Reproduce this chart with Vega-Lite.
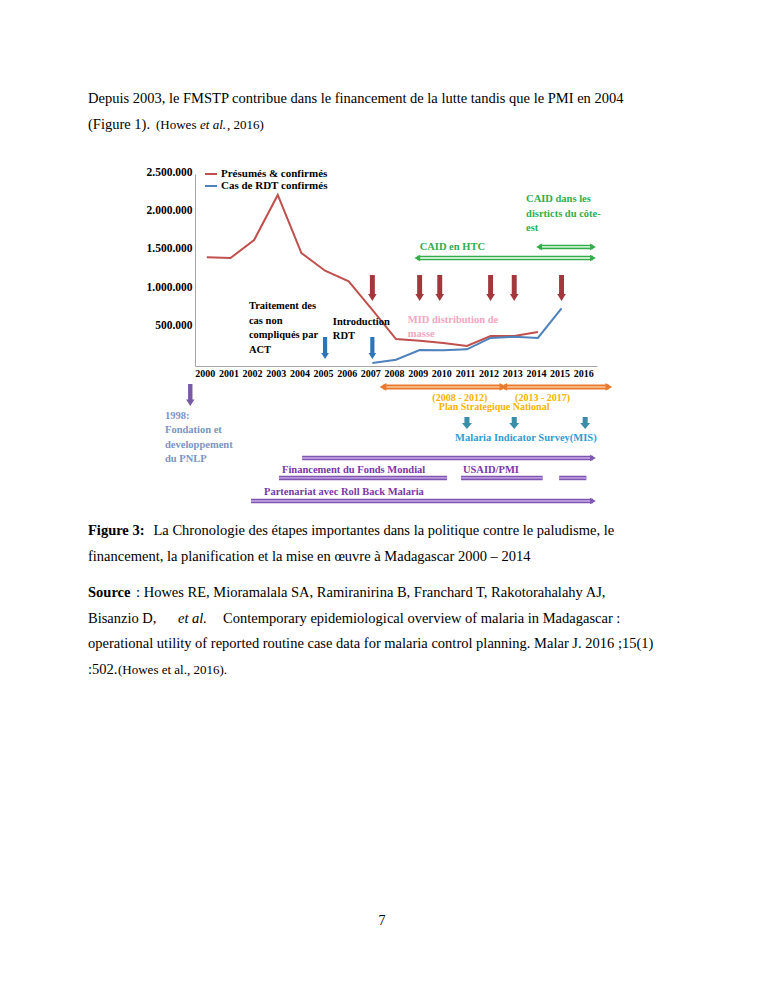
{
  "$schema": "https://vega.github.io/schema/vega-lite/v6.json",
  "background": "white",
  "padding": {"left": 88, "top": 86, "right": 10, "bottom": 10},
  "spacing": 0,
  "config": {
    "view": {"stroke": null},
    "font": "Liberation Serif",
    "axisX": {"ticks": false, "grid": false, "domainColor": "#a6a6a6", "labelFont": "Liberation Serif", "labelFontSize": 10, "labelFontWeight": "bold", "labelColor": "black", "labelPadding": 2, "labelOffset": -2, "labelOverlap": false, "labelFlush": false, "labelBound": false},
    "axisY": {"ticks": false, "grid": false, "domainColor": "#a6a6a6", "labelFont": "Liberation Serif", "labelFontSize": 11.5, "labelFontWeight": "bold", "labelColor": "black", "labelPadding": 3, "labelOffset": -2, "labelOverlap": false}
  },
  "resolve": {"scale": {"x": "independent", "y": "independent", "color": "independent"}},
  "datasets": {
    "para": [
      {"line": 1, "seg": "a", "text": "Depuis 2003, le FMSTP contribue dans le financement de la lutte tandis que le PMI en 2004"},
      {"line": 2, "seg": "a", "text": "(Figure 1)."},
      {"line": 2, "seg": "b", "text": "(Howes"},
      {"line": 2, "seg": "c", "text": "et al."},
      {"line": 2, "seg": "d", "text": ", 2016)"}
    ],
    "fig": [
      {"line": 1, "seg": "a", "text": "Figure 3:"},
      {"line": 1, "seg": "b", "text": "La Chronologie des étapes importantes dans la politique contre le paludisme, le"},
      {"line": 2, "seg": "c", "text": "financement, la planification et la mise en œuvre à Madagascar 2000 – 2014"}
    ],
    "source": [
      {"line": 1, "seg": "a", "text": "Source"},
      {"line": 1, "seg": "b", "text": ": Howes RE, Mioramalala SA, Ramiranirina B, Franchard T, Rakotorahalahy AJ,"},
      {"line": 2, "seg": "c", "text": "Bisanzio D,"},
      {"line": 2, "seg": "d", "text": "et al."},
      {"line": 2, "seg": "e", "text": "Contemporary epidemiological overview of malaria in Madagascar :"},
      {"line": 3, "seg": "c", "text": "operational utility of reported routine case data for malaria control planning. Malar J. 2016 ;15(1)"},
      {"line": 4, "seg": "c", "text": ":502."},
      {"line": 4, "seg": "f", "text": "(Howes et al., 2016)."}
    ],
    "page": [{"line": 1, "text": "7"}],
    "cases": [
      {"year": 2000, "serie": "Présumés & confirmés", "value": 1415000},
      {"year": 2001, "serie": "Présumés & confirmés", "value": 1406000},
      {"year": 2002, "serie": "Présumés & confirmés", "value": 1640000},
      {"year": 2003, "serie": "Présumés & confirmés", "value": 2227000},
      {"year": 2004, "serie": "Présumés & confirmés", "value": 1471000},
      {"year": 2005, "serie": "Présumés & confirmés", "value": 1241000},
      {"year": 2006, "serie": "Présumés & confirmés", "value": 1103000},
      {"year": 2007, "serie": "Présumés & confirmés", "value": 730000},
      {"year": 2008, "serie": "Présumés & confirmés", "value": 350000},
      {"year": 2009, "serie": "Présumés & confirmés", "value": 330000},
      {"year": 2010, "serie": "Présumés & confirmés", "value": 300000},
      {"year": 2011, "serie": "Présumés & confirmés", "value": 260000},
      {"year": 2012, "serie": "Présumés & confirmés", "value": 390000},
      {"year": 2013, "serie": "Présumés & confirmés", "value": 390000},
      {"year": 2014, "serie": "Présumés & confirmés", "value": 443000},
      {"year": 2007, "serie": "Cas de RDT confirmés", "value": 40000},
      {"year": 2008, "serie": "Cas de RDT confirmés", "value": 82000},
      {"year": 2009, "serie": "Cas de RDT confirmés", "value": 208000},
      {"year": 2010, "serie": "Cas de RDT confirmés", "value": 205000},
      {"year": 2011, "serie": "Cas de RDT confirmés", "value": 217000},
      {"year": 2012, "serie": "Cas de RDT confirmés", "value": 365000},
      {"year": 2013, "serie": "Cas de RDT confirmés", "value": 380000},
      {"year": 2014, "serie": "Cas de RDT confirmés", "value": 365000},
      {"year": 2015, "serie": "Cas de RDT confirmés", "value": 751000}
    ],
    "redArrows": [{"year": 2007}, {"year": 2009}, {"year": 2009.85}, {"year": 2012}, {"year": 2013}, {"year": 2015}],
    "blueArrows": [{"year": 2005}, {"year": 2007}],
    "pnlpArrow": [{"year": 1999.3}],
    "misArrows": [{"year": 2011}, {"year": 2013}, {"year": 2016}],
    "spans": [
      {"id": "caid_htc", "start": 2008.9, "end": 2016.33},
      {"id": "caid_est", "start": 2014.05, "end": 2016.33},
      {"id": "psn", "start": 2007.45, "end": 2012.52},
      {"id": "psn", "start": 2012.56, "end": 2017.0},
      {"id": "top", "start": 2004.03, "end": 2016.33},
      {"id": "bars", "start": 2003.05, "end": 2010.16},
      {"id": "bars", "start": 2010.75, "end": 2014.2},
      {"id": "bars", "start": 2014.9, "end": 2016.05},
      {"id": "rbm", "start": 2001.87, "end": 2016.33}
    ],
    "labels": [
      {"grp": "act", "year": 2001.78, "text": "Traitement des\ncas non\ncompliqués par\nACT"},
      {"grp": "rdt", "year": 2005.33, "text": "Introduction\nRDT"},
      {"grp": "mid", "year": 2008.5, "text": "MID distribution  de\nmasse"},
      {"grp": "htc", "year": 2009.0, "text": "CAID en HTC"},
      {"grp": "est", "year": 2013.5, "text": "CAID dans les\ndisrticts du côte-\nest"},
      {"grp": "pnlp", "year": 1998.23, "text": "1998:\nFondation et\ndeveloppement\ndu PNLP"},
      {"grp": "period", "year": 2010.7, "text": "(2008 - 2012)"},
      {"grp": "period", "year": 2014.2, "text": "(2013 - 2017)"},
      {"grp": "psn", "year": 2012.15, "text": "Plan Strategique National"},
      {"grp": "mis", "year": 2010.5, "text": "Malaria Indicator Survey(MIS)"},
      {"grp": "fund", "year": 2003.18, "text": "Financement du Fonds Mondial"},
      {"grp": "fund", "year": 2010.83, "text": "USAID/PMI"},
      {"grp": "rbm", "year": 2002.42, "text": "Partenariat avec Roll Back Malaria"}
    ]
  },
  "vconcat": [
    {
      "width": 590, "height": 80,
      "data": {"name": "para"},
      "encoding": {
        "y": {"field": "line", "type": "quantitative", "axis": null, "scale": {"domain": [0.5, 3.5769], "reverse": true, "nice": false, "zero": false}},
        "x": {"datum": 0, "type": "quantitative", "axis": null, "scale": {"domain": [0, 1]}}
      },
      "layer": [
        {"transform": [{"filter": "datum.seg == 'a'"}], "mark": {"type": "text", "align": "left", "baseline": "middle", "font": "Liberation Serif", "fontSize": 14.5, "color": "black", "dx": -107}, "encoding": {"text": {"field": "text"}}},
        {"transform": [{"filter": "datum.seg == 'b'"}], "mark": {"type": "text", "align": "left", "baseline": "middle", "font": "Liberation Serif", "fontSize": 13, "color": "black", "dx": -39}, "encoding": {"text": {"field": "text"}}},
        {"transform": [{"filter": "datum.seg == 'c'"}], "mark": {"type": "text", "align": "left", "baseline": "middle", "font": "Liberation Serif", "fontSize": 13, "fontStyle": "italic", "color": "black", "dx": 5}, "encoding": {"text": {"field": "text"}}},
        {"transform": [{"filter": "datum.seg == 'd'"}], "mark": {"type": "text", "align": "left", "baseline": "middle", "font": "Liberation Serif", "fontSize": 13, "color": "black", "dx": 32}, "encoding": {"text": {"field": "text"}}}
      ]
    },
    {
      "width": 402, "height": 192,
      "layer": [
        {
          "data": {"name": "cases"},
          "mark": {"type": "line", "strokeWidth": 2},
          "encoding": {
            "x": {"field": "year", "type": "quantitative", "title": null,
              "scale": {"domain": [1999.5, 2016.5], "nice": false, "zero": false},
              "axis": {"values": [2000, 2001, 2002, 2003, 2004, 2005, 2006, 2007, 2008, 2009, 2010, 2011, 2012, 2013, 2014, 2015, 2016], "format": "d", "title": null, "labelOverlap": false}},
            "y": {"field": "value", "type": "quantitative", "title": null,
              "scale": {"domain": [0, 2500000], "nice": false, "zero": false},
              "axis": {"values": [500000, 1000000, 1500000, 2000000, 2500000], "labelExpr": "replace(replace(format(datum.value, ','), ',', '.'), ',', '.')", "title": null, "minExtent": 107}},
            "color": {"field": "serie", "type": "nominal",
              "scale": {"domain": ["Présumés & confirmés", "Cas de RDT confirmés"], "range": ["#c0504d", "#4f81bd"]},
              "legend": {"title": null, "orient": "none", "legendX": 9, "legendY": -7, "symbolType": "stroke", "symbolSize": 144, "symbolStrokeWidth": 2, "labelFont": "Liberation Serif", "labelFontSize": 11, "labelFontWeight": "bold", "labelColor": "black", "labelOffset": 3, "rowPadding": 0, "padding": 0}}
          }
        },
        {
          "data": {"name": "redArrows"},
          "mark": {"type": "point", "shape": "M-0.19,-1L0.19,-1L0.19,0.46L0.33,0.46L0,1L-0.33,0.46L-0.19,0.46Z", "size": 676, "filled": true, "color": "#a3373b", "opacity": 1, "strokeWidth": 0},
          "encoding": {"x": {"field": "year", "type": "quantitative", "axis": {"values": [2000, 2001, 2002, 2003, 2004, 2005, 2006, 2007, 2008, 2009, 2010, 2011, 2012, 2013, 2014, 2015, 2016], "format": "d", "title": null, "labelOverlap": false}}, "y": {"datum": 1016000, "type": "quantitative"}}
        },
        {
          "data": {"name": "blueArrows"},
          "mark": {"type": "point", "shape": "M-0.19,-1L0.19,-1L0.19,0.46L0.35,0.46L0,1L-0.35,0.46L-0.19,0.46Z", "size": 484, "filled": true, "color": "#2d74bb", "opacity": 1, "strokeWidth": 0},
          "encoding": {"x": {"field": "year", "type": "quantitative", "axis": {"values": [2000, 2001, 2002, 2003, 2004, 2005, 2006, 2007, 2008, 2009, 2010, 2011, 2012, 2013, 2014, 2015, 2016], "format": "d", "title": null, "labelOverlap": false}}, "y": {"datum": 234000, "type": "quantitative"}}
        },
        {
          "data": {"name": "pnlpArrow"},
          "mark": {"type": "point", "shape": "M-0.2,-1L0.2,-1L0.2,0.4L0.38,0.4L0,1L-0.38,0.4L-0.2,0.4Z", "size": 484, "filled": true, "color": "#7a5aa5", "opacity": 1, "strokeWidth": 0},
          "encoding": {"x": {"field": "year", "type": "quantitative", "axis": {"values": [2000, 2001, 2002, 2003, 2004, 2005, 2006, 2007, 2008, 2009, 2010, 2011, 2012, 2013, 2014, 2015, 2016], "format": "d", "title": null, "labelOverlap": false}}, "y": {"datum": -378000, "type": "quantitative"}}
        },
        {
          "data": {"name": "misArrows"},
          "mark": {"type": "point", "shape": "M-0.42,-1L0.42,-1L0.42,0L0.83,0L0,1L-0.83,0L-0.42,0Z", "size": 144, "filled": true, "color": "#3a8da6", "opacity": 1, "strokeWidth": 0},
          "encoding": {"x": {"field": "year", "type": "quantitative", "axis": {"values": [2000, 2001, 2002, 2003, 2004, 2005, 2006, 2007, 2008, 2009, 2010, 2011, 2012, 2013, 2014, 2015, 2016], "format": "d", "title": null, "labelOverlap": false}}, "y": {"datum": -742000, "type": "quantitative"}}
        },
        {
          "data": {"name": "spans"},
          "transform": [{"filter": "datum.id == 'caid_htc'"}],
          "encoding": {"y": {"datum": 1406000, "type": "quantitative"}},
          "layer": [
            {"mark": {"type": "rule", "strokeWidth": 4.5, "color": "#36ad4b"}, "encoding": {"x": {"field": "start", "type": "quantitative", "axis": {"values": [2000, 2001, 2002, 2003, 2004, 2005, 2006, 2007, 2008, 2009, 2010, 2011, 2012, 2013, 2014, 2015, 2016], "format": "d", "title": null, "labelOverlap": false}}, "x2": {"field": "end"}}},
            {"mark": {"type": "rule", "strokeWidth": 1.8, "color": "#c6eecb"}, "encoding": {"x": {"field": "start", "type": "quantitative", "axis": {"values": [2000, 2001, 2002, 2003, 2004, 2005, 2006, 2007, 2008, 2009, 2010, 2011, 2012, 2013, 2014, 2015, 2016], "format": "d", "title": null, "labelOverlap": false}}, "x2": {"field": "end"}}},
            {"mark": {"type": "point", "shape": "triangle-left", "size": 45, "filled": true, "color": "#36ad4b", "opacity": 1}, "encoding": {"x": {"field": "start", "type": "quantitative", "axis": {"values": [2000, 2001, 2002, 2003, 2004, 2005, 2006, 2007, 2008, 2009, 2010, 2011, 2012, 2013, 2014, 2015, 2016], "format": "d", "title": null, "labelOverlap": false}}}},
            {"mark": {"type": "point", "shape": "triangle-right", "size": 45, "filled": true, "color": "#36ad4b", "opacity": 1}, "encoding": {"x": {"field": "end", "type": "quantitative", "axis": {"values": [2000, 2001, 2002, 2003, 2004, 2005, 2006, 2007, 2008, 2009, 2010, 2011, 2012, 2013, 2014, 2015, 2016], "format": "d", "title": null, "labelOverlap": false}}}}
          ]
        },
        {
          "data": {"name": "spans"},
          "transform": [{"filter": "datum.id == 'caid_est'"}],
          "encoding": {"y": {"datum": 1550000, "type": "quantitative"}},
          "layer": [
            {"mark": {"type": "rule", "strokeWidth": 4.5, "color": "#36ad4b"}, "encoding": {"x": {"field": "start", "type": "quantitative", "axis": {"values": [2000, 2001, 2002, 2003, 2004, 2005, 2006, 2007, 2008, 2009, 2010, 2011, 2012, 2013, 2014, 2015, 2016], "format": "d", "title": null, "labelOverlap": false}}, "x2": {"field": "end"}}},
            {"mark": {"type": "rule", "strokeWidth": 1.8, "color": "#c6eecb"}, "encoding": {"x": {"field": "start", "type": "quantitative", "axis": {"values": [2000, 2001, 2002, 2003, 2004, 2005, 2006, 2007, 2008, 2009, 2010, 2011, 2012, 2013, 2014, 2015, 2016], "format": "d", "title": null, "labelOverlap": false}}, "x2": {"field": "end"}}},
            {"mark": {"type": "point", "shape": "triangle-left", "size": 45, "filled": true, "color": "#36ad4b", "opacity": 1}, "encoding": {"x": {"field": "start", "type": "quantitative", "axis": {"values": [2000, 2001, 2002, 2003, 2004, 2005, 2006, 2007, 2008, 2009, 2010, 2011, 2012, 2013, 2014, 2015, 2016], "format": "d", "title": null, "labelOverlap": false}}}},
            {"mark": {"type": "point", "shape": "triangle-right", "size": 45, "filled": true, "color": "#36ad4b", "opacity": 1}, "encoding": {"x": {"field": "end", "type": "quantitative", "axis": {"values": [2000, 2001, 2002, 2003, 2004, 2005, 2006, 2007, 2008, 2009, 2010, 2011, 2012, 2013, 2014, 2015, 2016], "format": "d", "title": null, "labelOverlap": false}}}}
          ]
        },
        {
          "data": {"name": "spans"},
          "transform": [{"filter": "datum.id == 'psn'"}],
          "encoding": {"y": {"datum": -273000, "type": "quantitative"}},
          "layer": [
            {"mark": {"type": "rule", "strokeWidth": 5, "color": "#e77a2e"}, "encoding": {"x": {"field": "start", "type": "quantitative", "axis": {"values": [2000, 2001, 2002, 2003, 2004, 2005, 2006, 2007, 2008, 2009, 2010, 2011, 2012, 2013, 2014, 2015, 2016], "format": "d", "title": null, "labelOverlap": false}}, "x2": {"field": "end"}}},
            {"mark": {"type": "rule", "strokeWidth": 2, "color": "#f8b47c"}, "encoding": {"x": {"field": "start", "type": "quantitative", "axis": {"values": [2000, 2001, 2002, 2003, 2004, 2005, 2006, 2007, 2008, 2009, 2010, 2011, 2012, 2013, 2014, 2015, 2016], "format": "d", "title": null, "labelOverlap": false}}, "x2": {"field": "end"}}},
            {"mark": {"type": "point", "shape": "triangle-left", "size": 60, "filled": true, "color": "#e77a2e", "opacity": 1}, "encoding": {"x": {"field": "start", "type": "quantitative", "axis": {"values": [2000, 2001, 2002, 2003, 2004, 2005, 2006, 2007, 2008, 2009, 2010, 2011, 2012, 2013, 2014, 2015, 2016], "format": "d", "title": null, "labelOverlap": false}}}},
            {"mark": {"type": "point", "shape": "triangle-right", "size": 60, "filled": true, "color": "#e77a2e", "opacity": 1}, "encoding": {"x": {"field": "end", "type": "quantitative", "axis": {"values": [2000, 2001, 2002, 2003, 2004, 2005, 2006, 2007, 2008, 2009, 2010, 2011, 2012, 2013, 2014, 2015, 2016], "format": "d", "title": null, "labelOverlap": false}}}}
          ]
        },
        {
          "data": {"name": "spans"},
          "transform": [{"filter": "datum.id == 'top'"}],
          "encoding": {"y": {"datum": -1198000, "type": "quantitative"}},
          "layer": [
            {"mark": {"type": "rule", "strokeWidth": 4.5, "color": "#7f56b0"}, "encoding": {"x": {"field": "start", "type": "quantitative", "axis": {"values": [2000, 2001, 2002, 2003, 2004, 2005, 2006, 2007, 2008, 2009, 2010, 2011, 2012, 2013, 2014, 2015, 2016], "format": "d", "title": null, "labelOverlap": false}}, "x2": {"field": "end"}}},
            {"mark": {"type": "rule", "strokeWidth": 1.8, "color": "#b896dc"}, "encoding": {"x": {"field": "start", "type": "quantitative", "axis": {"values": [2000, 2001, 2002, 2003, 2004, 2005, 2006, 2007, 2008, 2009, 2010, 2011, 2012, 2013, 2014, 2015, 2016], "format": "d", "title": null, "labelOverlap": false}}, "x2": {"field": "end"}}},
            {"mark": {"type": "point", "shape": "triangle-right", "size": 45, "filled": true, "color": "#7f56b0", "opacity": 1}, "encoding": {"x": {"field": "end", "type": "quantitative", "axis": {"values": [2000, 2001, 2002, 2003, 2004, 2005, 2006, 2007, 2008, 2009, 2010, 2011, 2012, 2013, 2014, 2015, 2016], "format": "d", "title": null, "labelOverlap": false}}}}
          ]
        },
        {
          "data": {"name": "spans"},
          "transform": [{"filter": "datum.id == 'bars'"}],
          "encoding": {"y": {"datum": -1458000, "type": "quantitative"}},
          "layer": [
            {"mark": {"type": "rule", "strokeWidth": 4.5, "color": "#7f56b0"}, "encoding": {"x": {"field": "start", "type": "quantitative", "axis": {"values": [2000, 2001, 2002, 2003, 2004, 2005, 2006, 2007, 2008, 2009, 2010, 2011, 2012, 2013, 2014, 2015, 2016], "format": "d", "title": null, "labelOverlap": false}}, "x2": {"field": "end"}}},
            {"mark": {"type": "rule", "strokeWidth": 1.8, "color": "#b896dc"}, "encoding": {"x": {"field": "start", "type": "quantitative", "axis": {"values": [2000, 2001, 2002, 2003, 2004, 2005, 2006, 2007, 2008, 2009, 2010, 2011, 2012, 2013, 2014, 2015, 2016], "format": "d", "title": null, "labelOverlap": false}}, "x2": {"field": "end"}}}
          ]
        },
        {
          "data": {"name": "spans"},
          "transform": [{"filter": "datum.id == 'rbm'"}],
          "encoding": {"y": {"datum": -1758000, "type": "quantitative"}},
          "layer": [
            {"mark": {"type": "rule", "strokeWidth": 4.5, "color": "#7f56b0"}, "encoding": {"x": {"field": "start", "type": "quantitative", "axis": {"values": [2000, 2001, 2002, 2003, 2004, 2005, 2006, 2007, 2008, 2009, 2010, 2011, 2012, 2013, 2014, 2015, 2016], "format": "d", "title": null, "labelOverlap": false}}, "x2": {"field": "end"}}},
            {"mark": {"type": "rule", "strokeWidth": 1.8, "color": "#b896dc"}, "encoding": {"x": {"field": "start", "type": "quantitative", "axis": {"values": [2000, 2001, 2002, 2003, 2004, 2005, 2006, 2007, 2008, 2009, 2010, 2011, 2012, 2013, 2014, 2015, 2016], "format": "d", "title": null, "labelOverlap": false}}, "x2": {"field": "end"}}},
            {"mark": {"type": "point", "shape": "triangle-right", "size": 45, "filled": true, "color": "#7f56b0", "opacity": 1}, "encoding": {"x": {"field": "end", "type": "quantitative", "axis": {"values": [2000, 2001, 2002, 2003, 2004, 2005, 2006, 2007, 2008, 2009, 2010, 2011, 2012, 2013, 2014, 2015, 2016], "format": "d", "title": null, "labelOverlap": false}}}}
          ]
        },
        {
          "data": {"name": "labels"},
          "transform": [{"filter": "datum.grp == 'act'"}],
          "mark": {"type": "text", "align": "left", "baseline": "middle", "lineBreak": "\n", "lineHeight": 14.5, "font": "Liberation Serif", "fontSize": 10.5, "fontWeight": "bold", "color": "black"},
          "encoding": {"x": {"field": "year", "type": "quantitative", "axis": {"values": [2000, 2001, 2002, 2003, 2004, 2005, 2006, 2007, 2008, 2009, 2010, 2011, 2012, 2013, 2014, 2015, 2016], "format": "d", "title": null, "labelOverlap": false}}, "y": {"datum": 781000, "type": "quantitative"}, "text": {"field": "text"}}
        },
        {
          "data": {"name": "labels"},
          "transform": [{"filter": "datum.grp == 'rdt'"}],
          "mark": {"type": "text", "align": "left", "baseline": "middle", "lineBreak": "\n", "lineHeight": 14.5, "font": "Liberation Serif", "fontSize": 10.5, "fontWeight": "bold", "color": "black"},
          "encoding": {"x": {"field": "year", "type": "quantitative", "axis": {"values": [2000, 2001, 2002, 2003, 2004, 2005, 2006, 2007, 2008, 2009, 2010, 2011, 2012, 2013, 2014, 2015, 2016], "format": "d", "title": null, "labelOverlap": false}}, "y": {"datum": 573000, "type": "quantitative"}, "text": {"field": "text"}}
        },
        {
          "data": {"name": "labels"},
          "transform": [{"filter": "datum.grp == 'mid'"}],
          "mark": {"type": "text", "align": "left", "baseline": "middle", "lineBreak": "\n", "lineHeight": 14, "font": "Liberation Serif", "fontSize": 10.5, "fontWeight": "bold", "color": "#f4a6c1"},
          "encoding": {"x": {"field": "year", "type": "quantitative", "axis": {"values": [2000, 2001, 2002, 2003, 2004, 2005, 2006, 2007, 2008, 2009, 2010, 2011, 2012, 2013, 2014, 2015, 2016], "format": "d", "title": null, "labelOverlap": false}}, "y": {"datum": 599000, "type": "quantitative"}, "text": {"field": "text"}}
        },
        {
          "data": {"name": "labels"},
          "transform": [{"filter": "datum.grp == 'htc'"}],
          "mark": {"type": "text", "align": "left", "baseline": "middle", "font": "Liberation Serif", "fontSize": 10.5, "fontWeight": "bold", "color": "#2fae4b"},
          "encoding": {"x": {"field": "year", "type": "quantitative", "axis": {"values": [2000, 2001, 2002, 2003, 2004, 2005, 2006, 2007, 2008, 2009, 2010, 2011, 2012, 2013, 2014, 2015, 2016], "format": "d", "title": null, "labelOverlap": false}}, "y": {"datum": 1550000, "type": "quantitative"}, "text": {"field": "text"}}
        },
        {
          "data": {"name": "labels"},
          "transform": [{"filter": "datum.grp == 'est'"}],
          "mark": {"type": "text", "align": "left", "baseline": "middle", "lineBreak": "\n", "lineHeight": 14.5, "font": "Liberation Serif", "fontSize": 10.5, "fontWeight": "bold", "color": "#2fae4b"},
          "encoding": {"x": {"field": "year", "type": "quantitative", "axis": {"values": [2000, 2001, 2002, 2003, 2004, 2005, 2006, 2007, 2008, 2009, 2010, 2011, 2012, 2013, 2014, 2015, 2016], "format": "d", "title": null, "labelOverlap": false}}, "y": {"datum": 2174000, "type": "quantitative"}, "text": {"field": "text"}}
        },
        {
          "data": {"name": "labels"},
          "transform": [{"filter": "datum.grp == 'pnlp'"}],
          "mark": {"type": "text", "align": "left", "baseline": "middle", "lineBreak": "\n", "lineHeight": 14.5, "font": "Liberation Serif", "fontSize": 10.5, "fontWeight": "bold", "color": "#7b94c4"},
          "encoding": {"x": {"field": "year", "type": "quantitative", "axis": {"values": [2000, 2001, 2002, 2003, 2004, 2005, 2006, 2007, 2008, 2009, 2010, 2011, 2012, 2013, 2014, 2015, 2016], "format": "d", "title": null, "labelOverlap": false}}, "y": {"datum": -651000, "type": "quantitative"}, "text": {"field": "text"}}
        },
        {
          "data": {"name": "labels"},
          "transform": [{"filter": "datum.grp == 'period'"}],
          "mark": {"type": "text", "align": "center", "baseline": "middle", "font": "Liberation Serif", "fontSize": 10, "fontWeight": "bold", "color": "#f4b400"},
          "encoding": {"x": {"field": "year", "type": "quantitative", "axis": {"values": [2000, 2001, 2002, 2003, 2004, 2005, 2006, 2007, 2008, 2009, 2010, 2011, 2012, 2013, 2014, 2015, 2016], "format": "d", "title": null, "labelOverlap": false}}, "y": {"datum": -412000, "type": "quantitative"}, "text": {"field": "text"}}
        },
        {
          "data": {"name": "labels"},
          "transform": [{"filter": "datum.grp == 'psn'"}],
          "mark": {"type": "text", "align": "center", "baseline": "middle", "font": "Liberation Serif", "fontSize": 10, "fontWeight": "bold", "color": "#f4b400"},
          "encoding": {"x": {"field": "year", "type": "quantitative", "axis": {"values": [2000, 2001, 2002, 2003, 2004, 2005, 2006, 2007, 2008, 2009, 2010, 2011, 2012, 2013, 2014, 2015, 2016], "format": "d", "title": null, "labelOverlap": false}}, "y": {"datum": -540000, "type": "quantitative"}, "text": {"field": "text"}}
        },
        {
          "data": {"name": "labels"},
          "transform": [{"filter": "datum.grp == 'mis'"}],
          "mark": {"type": "text", "align": "left", "baseline": "middle", "font": "Liberation Serif", "fontSize": 10.5, "fontWeight": "bold", "color": "#2e9dd4"},
          "encoding": {"x": {"field": "year", "type": "quantitative", "axis": {"values": [2000, 2001, 2002, 2003, 2004, 2005, 2006, 2007, 2008, 2009, 2010, 2011, 2012, 2013, 2014, 2015, 2016], "format": "d", "title": null, "labelOverlap": false}}, "y": {"datum": -937500, "type": "quantitative"}, "text": {"field": "text"}}
        },
        {
          "data": {"name": "labels"},
          "transform": [{"filter": "datum.grp == 'fund'"}],
          "mark": {"type": "text", "align": "left", "baseline": "middle", "font": "Liberation Serif", "fontSize": 10.5, "fontWeight": "bold", "color": "#7a38a8"},
          "encoding": {"x": {"field": "year", "type": "quantitative", "axis": {"values": [2000, 2001, 2002, 2003, 2004, 2005, 2006, 2007, 2008, 2009, 2010, 2011, 2012, 2013, 2014, 2015, 2016], "format": "d", "title": null, "labelOverlap": false}}, "y": {"datum": -1354000, "type": "quantitative"}, "text": {"field": "text"}}
        },
        {
          "data": {"name": "labels"},
          "transform": [{"filter": "datum.grp == 'rbm'"}],
          "mark": {"type": "text", "align": "left", "baseline": "middle", "font": "Liberation Serif", "fontSize": 10.5, "fontWeight": "bold", "color": "#7a38a8"},
          "encoding": {"x": {"field": "year", "type": "quantitative", "axis": {"values": [2000, 2001, 2002, 2003, 2004, 2005, 2006, 2007, 2008, 2009, 2010, 2011, 2012, 2013, 2014, 2015, 2016], "format": "d", "title": null, "labelOverlap": false}}, "y": {"datum": -1641000, "type": "quantitative"}, "text": {"field": "text"}}
        }
      ]
    },
    {
      "width": 590, "height": 63.5,
      "data": {"name": "fig"},
      "encoding": {
        "y": {"field": "line", "type": "quantitative", "axis": null, "scale": {"domain": [-0.0192, 2.4231], "reverse": true, "nice": false, "zero": false}},
        "x": {"datum": 0, "type": "quantitative", "axis": null, "scale": {"domain": [0, 1]}}
      },
      "layer": [
        {"transform": [{"filter": "datum.seg == 'a'"}], "mark": {"type": "text", "align": "left", "baseline": "middle", "font": "Liberation Serif", "fontSize": 14.5, "fontWeight": "bold", "color": "black", "dx": -107}, "encoding": {"text": {"field": "text"}}},
        {"transform": [{"filter": "datum.seg == 'b'"}], "mark": {"type": "text", "align": "left", "baseline": "middle", "font": "Liberation Serif", "fontSize": 14.5, "color": "black", "dx": -41.5}, "encoding": {"text": {"field": "text"}}},
        {"transform": [{"filter": "datum.seg == 'c'"}], "mark": {"type": "text", "align": "left", "baseline": "middle", "font": "Liberation Serif", "fontSize": 14.5, "color": "black", "dx": -107}, "encoding": {"text": {"field": "text"}}}
      ]
    },
    {
      "width": 590, "height": 114,
      "data": {"name": "source"},
      "encoding": {
        "y": {"field": "line", "type": "quantitative", "axis": null, "scale": {"domain": [0.0661, 4.5019], "reverse": true, "nice": false, "zero": false}},
        "x": {"datum": 0, "type": "quantitative", "axis": null, "scale": {"domain": [0, 1]}}
      },
      "layer": [
        {"transform": [{"filter": "datum.seg == 'a'"}], "mark": {"type": "text", "align": "left", "baseline": "middle", "font": "Liberation Serif", "fontSize": 14.5, "fontWeight": "bold", "color": "black", "dx": -107}, "encoding": {"text": {"field": "text"}}},
        {"transform": [{"filter": "datum.seg == 'b'"}], "mark": {"type": "text", "align": "left", "baseline": "middle", "font": "Liberation Serif", "fontSize": 14.5, "color": "black", "dx": -59}, "encoding": {"text": {"field": "text"}}},
        {"transform": [{"filter": "datum.seg == 'c'"}], "mark": {"type": "text", "align": "left", "baseline": "middle", "font": "Liberation Serif", "fontSize": 14.5, "color": "black", "dx": -107}, "encoding": {"text": {"field": "text"}}},
        {"transform": [{"filter": "datum.seg == 'd'"}], "mark": {"type": "text", "align": "left", "baseline": "middle", "font": "Liberation Serif", "fontSize": 14.5, "fontStyle": "italic", "color": "black", "dx": -17}, "encoding": {"text": {"field": "text"}}},
        {"transform": [{"filter": "datum.seg == 'e'"}], "mark": {"type": "text", "align": "left", "baseline": "middle", "font": "Liberation Serif", "fontSize": 14.5, "color": "black", "dx": 28}, "encoding": {"text": {"field": "text"}}},
        {"transform": [{"filter": "datum.seg == 'f'"}], "mark": {"type": "text", "align": "left", "baseline": "middle", "font": "Liberation Serif", "fontSize": 13, "color": "black", "dx": -77}, "encoding": {"text": {"field": "text"}}}
      ]
    },
    {
      "width": 590, "height": 251,
      "data": {"name": "page"},
      "encoding": {
        "y": {"field": "line", "type": "quantitative", "axis": null, "scale": {"domain": [-8.1538, 1.5], "reverse": true, "nice": false, "zero": false}},
        "x": {"datum": 0.5, "type": "quantitative", "axis": null, "scale": {"domain": [0, 1]}}
      },
      "layer": [
        {"mark": {"type": "text", "align": "center", "baseline": "middle", "font": "Liberation Serif", "fontSize": 14, "color": "black", "dx": -108}, "encoding": {"text": {"field": "text"}}}
      ]
    }
  ]
}
